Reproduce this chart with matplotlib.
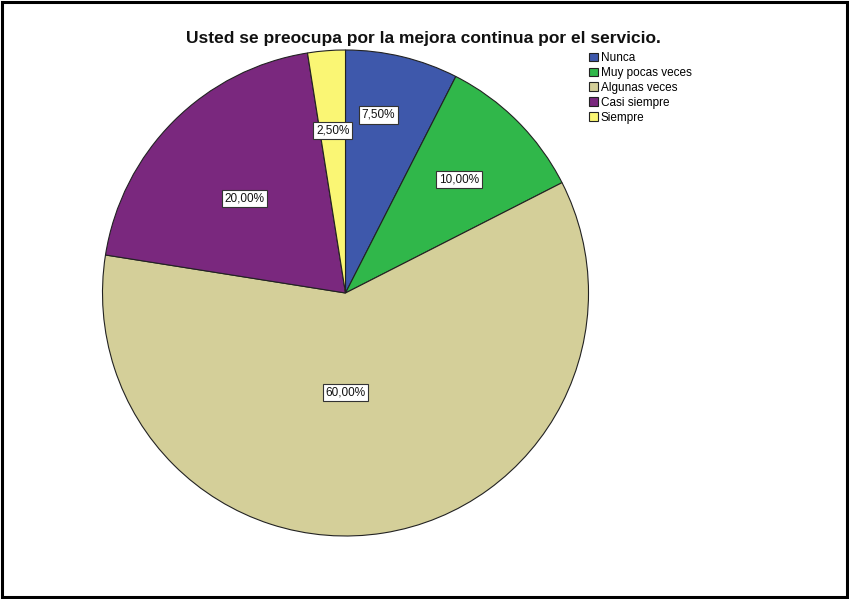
import numpy as np
import matplotlib.pyplot as plt
from matplotlib.patches import Rectangle

plt.rcParams['font.family'] = ['Liberation Sans', 'DejaVu Sans']

# survey answers (percent of respondents)
categories = ['Nunca', 'Muy pocas veces', 'Algunas veces', 'Casi siempre', 'Siempre']
percents = [7.5, 10.0, 60.0, 20.0, 2.5]
colors = ['#3E58AB', '#30B74A', '#D4CF99', '#7A287E', '#FAF674']

# how far out each value label sits (fraction of radius) and a small angle nudge
label_r = [0.745, 0.66, 0.41, 0.57, 0.67]
label_nudge = [3, 0, -9, 2, 0]

W, H = 849, 599
fig = plt.figure(figsize=(W / 100, H / 100), dpi=100)
ax = fig.add_axes([0, 0, 1, 1])

cx, cy, R = 345.5, H - 293, 243
wedges, _ = ax.pie(percents, colors=colors, startangle=90, counterclock=False,
                   center=(cx, cy), radius=R, frame=True,
                   wedgeprops=dict(edgecolor='#222222', linewidth=0.8))
ax.set_xlim(0, W)
ax.set_ylim(0, H)
ax.set_aspect('equal')
ax.axis('off')

for w, p, rf, nd in zip(wedges, percents, label_r, label_nudge):
    ang = np.deg2rad((w.theta1 + w.theta2) / 2 + nd)
    x = cx + R * rf * np.cos(ang)
    y = cy + R * rf * np.sin(ang)
    ax.text(x, y, '{:.2f}%'.format(p).replace('.', ','), ha='center', va='center',
            fontsize=8.5, color='#111111',
            bbox=dict(boxstyle='square,pad=0.22', fc='white', ec='#333333', lw=0.8))

ax.text(423, H - 38, 'Usted se preocupa por la mejora continua por el servicio.',
        ha='center', va='center', fontsize=12.5, fontweight='bold', color='#111111')

ax.legend(wedges, categories, loc='upper left', bbox_to_anchor=(589 / W, 1 - 52 / H),
          frameon=False, fontsize=8.5, handlelength=0.75, handleheight=0.75,
          handletextpad=0.25, labelspacing=0.25, borderaxespad=0, borderpad=0)

# outer black frame
ax.add_patch(Rectangle((2, 2), W - 4, H - 4, fill=False, ec='black', lw=2.2))

fig.savefig('out.png', dpi=100)
